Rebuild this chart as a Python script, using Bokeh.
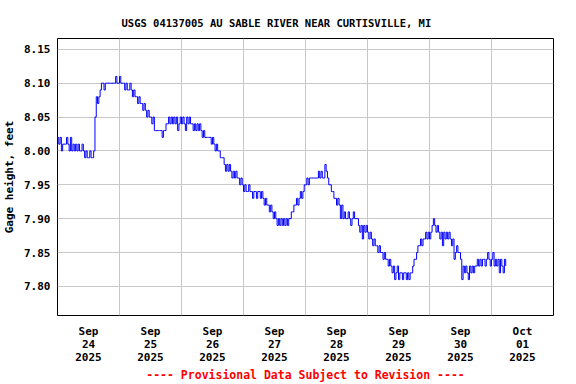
import numpy as np
import pandas as pd
from bokeh.plotting import figure
from bokeh.models import Range1d, FixedTicker, PrintfTickFormatter, ColumnDataSource
from bokeh.embed import file_html
from bokeh.resources import INLINE

# Gage height (feet), one reading every 30 minutes, starting 2025-09-24 00:00
series_start = "2025-09-24 00:00"
step_minutes = 30

day_sep24 = [8.02, 8.01, 8.02, 8.00, 8.01, 8.01, 8.01, 8.02, 8.01, 8.00, 8.02, 8.00,
             8.01, 8.00, 8.01, 8.00, 8.01, 8.00, 8.00, 8.01, 8.00, 7.99, 8.00, 7.99,
             7.99, 8.00, 7.99, 7.99, 8.00, 8.05, 8.08, 8.07, 8.08, 8.09, 8.10, 8.10,
             8.09, 8.10, 8.10, 8.10, 8.10, 8.10, 8.10, 8.10, 8.10, 8.11, 8.10, 8.10]
day_sep25 = [8.11, 8.10, 8.10, 8.10, 8.09, 8.10, 8.09, 8.09, 8.10, 8.09, 8.08, 8.09,
             8.08, 8.08, 8.07, 8.08, 8.07, 8.07, 8.06, 8.07, 8.06, 8.05, 8.06, 8.05,
             8.05, 8.04, 8.05, 8.03, 8.03, 8.03, 8.03, 8.03, 8.03, 8.02, 8.03, 8.03,
             8.04, 8.04, 8.05, 8.04, 8.05, 8.04, 8.05, 8.04, 8.05, 8.03, 8.04, 8.05]
day_sep26 = [8.04, 8.05, 8.04, 8.03, 8.05, 8.04, 8.05, 8.04, 8.04, 8.03, 8.04, 8.03,
             8.04, 8.03, 8.04, 8.03, 8.02, 8.03, 8.02, 8.02, 8.02, 8.02, 8.02, 8.01,
             8.02, 8.01, 8.00, 8.01, 8.00, 8.00, 7.99, 7.99, 7.99, 7.98, 7.97, 7.98,
             7.97, 7.98, 7.97, 7.96, 7.97, 7.96, 7.97, 7.96, 7.96, 7.95, 7.96, 7.95]
day_sep27 = [7.94, 7.95, 7.94, 7.94, 7.95, 7.94, 7.94, 7.93, 7.94, 7.94, 7.93, 7.94,
             7.94, 7.93, 7.94, 7.93, 7.92, 7.93, 7.92, 7.92, 7.91, 7.92, 7.91, 7.90,
             7.91, 7.90, 7.89, 7.90, 7.89, 7.90, 7.89, 7.90, 7.89, 7.90, 7.89, 7.90,
             7.90, 7.91, 7.91, 7.92, 7.92, 7.93, 7.92, 7.93, 7.94, 7.93, 7.94, 7.95]
day_sep28 = [7.95, 7.96, 7.95, 7.96, 7.96, 7.96, 7.96, 7.96, 7.96, 7.96, 7.97, 7.96,
             7.97, 7.96, 7.96, 7.98, 7.97, 7.96, 7.95, 7.95, 7.94, 7.94, 7.93, 7.93,
             7.92, 7.93, 7.92, 7.90, 7.92, 7.90, 7.91, 7.90, 7.90, 7.91, 7.90, 7.89,
             7.90, 7.91, 7.90, 7.90, 7.90, 7.89, 7.88, 7.89, 7.87, 7.89, 7.88, 7.89]
day_sep29 = [7.88, 7.87, 7.88, 7.87, 7.86, 7.87, 7.86, 7.86, 7.85, 7.86, 7.85, 7.85,
             7.84, 7.85, 7.84, 7.84, 7.83, 7.84, 7.83, 7.82, 7.83, 7.81, 7.82, 7.83,
             7.81, 7.82, 7.82, 7.81, 7.82, 7.82, 7.81, 7.82, 7.81, 7.82, 7.82, 7.83,
             7.84, 7.84, 7.85, 7.86, 7.86, 7.87, 7.86, 7.87, 7.87, 7.88, 7.87, 7.88]
day_sep30 = [7.87, 7.88, 7.89, 7.90, 7.89, 7.88, 7.89, 7.88, 7.87, 7.88, 7.86, 7.88,
             7.87, 7.88, 7.87, 7.88, 7.87, 7.86, 7.87, 7.84, 7.85, 7.86, 7.85, 7.85,
             7.84, 7.81, 7.83, 7.82, 7.83, 7.82, 7.81, 7.83, 7.82, 7.83, 7.82, 7.83,
             7.83, 7.84, 7.83, 7.84, 7.83, 7.84, 7.84, 7.83, 7.84, 7.85, 7.84, 7.83]
day_oct01 = [7.84, 7.85, 7.83, 7.84, 7.83, 7.84, 7.82, 7.84, 7.83, 7.82, 7.84, 7.83]

# Axis content
x_days = ["2025-09-24", "2025-09-25", "2025-09-26", "2025-09-27",
          "2025-09-28", "2025-09-29", "2025-09-30", "2025-10-01"]
x_tick_labels = ["Sep\n24\n2025", "Sep\n25\n2025", "Sep\n26\n2025", "Sep\n27\n2025",
                 "Sep\n28\n2025", "Sep\n29\n2025", "Sep\n30\n2025", "Oct\n01\n2025"]
x_end = "2025-10-02"
y_ticks = [7.80, 7.85, 7.90, 7.95, 8.00, 8.05, 8.10, 8.15]

title_text = "USGS 04137005 AU SABLE RIVER NEAR CURTISVILLE, MI"
y_label = "Gage height, feet"
footer_text = "---- Provisional Data Subject to Revision ----"

FONT = "DejaVu Sans Mono"


def ms(ts):
    return pd.Timestamp(ts).value / 1e6


values = day_sep24 + day_sep25 + day_sep26 + day_sep27 + day_sep28 + day_sep29 + day_sep30 + day_oct01
t0 = pd.Timestamp(series_start)
times = [t0 + pd.Timedelta(minutes=step_minutes * i) for i in range(len(values))]
src = ColumnDataSource(dict(t=[ms(t) for t in times], v=values))

day_ms = [ms(d) for d in x_days]
noon_ms = [d + 12 * 3600 * 1000 for d in day_ms]
grid_ms = day_ms[1:]

p = figure(frame_width=496, frame_height=277, output_backend="svg", toolbar_location=None,
           x_axis_type="datetime",
           x_range=Range1d(day_ms[0], ms(x_end)), y_range=Range1d(7.757, 8.166),
           min_border_left=50, min_border_right=14, min_border_top=38, min_border_bottom=60)

p.background_fill_color = "white"
p.border_fill_color = "white"
p.outline_line_color = "black"
p.outline_line_width = 1
p.outline_line_alpha = 1.0

p.title.text = title_text
p.title.text_font = FONT
p.title.text_font_size = "10.5px"
p.title.text_font_style = "bold"
p.title.text_color = "black"
p.title.align = "left"
p.title.offset = 64
p.title.standoff = 20

p.xgrid.ticker = FixedTicker(ticks=grid_ms)
p.ygrid.ticker = FixedTicker(ticks=y_ticks)
for g in (p.xgrid, p.ygrid):
    g.grid_line_color = "#c8c8c8"
    g.grid_line_width = 1

p.xaxis.ticker = FixedTicker(ticks=noon_ms)
p.xaxis.major_label_overrides = {t: lab for t, lab in zip(noon_ms, x_tick_labels)}
p.yaxis.ticker = FixedTicker(ticks=y_ticks)
p.yaxis.formatter = PrintfTickFormatter(format="%.2f")

for ax in (p.xaxis, p.yaxis):
    ax.axis_line_color = None
    ax.major_tick_line_color = None
    ax.minor_tick_line_color = None
    ax.major_tick_out = 0
    ax.major_tick_in = 0
    ax.minor_tick_out = 0
    ax.minor_tick_in = 0
    ax.major_label_text_font = FONT
    ax.major_label_text_font_style = "bold"
    ax.major_label_text_font_size = "11px"
    ax.major_label_text_color = "black"

p.xaxis.major_label_standoff = 9
p.xaxis.major_label_text_line_height = 1.0
p.xaxis.axis_label = footer_text
p.xaxis.axis_label_text_font = FONT
p.xaxis.axis_label_text_font_style = "bold"
p.xaxis.axis_label_text_font_size = "11.5px"
p.xaxis.axis_label_text_color = "#ff0000"
p.xaxis.axis_label_standoff = 1

p.yaxis.major_label_standoff = 7
p.yaxis.axis_label = y_label
p.yaxis.axis_label_text_font = FONT
p.yaxis.axis_label_text_font_style = "bold"
p.yaxis.axis_label_text_font_size = "11px"
p.yaxis.axis_label_text_color = "black"
p.yaxis.axis_label_standoff = 5

p.step(x="t", y="v", source=src, mode="after", line_color="#0000ff", line_width=1)

open("out.html", "w").write(file_html(p, INLINE))
